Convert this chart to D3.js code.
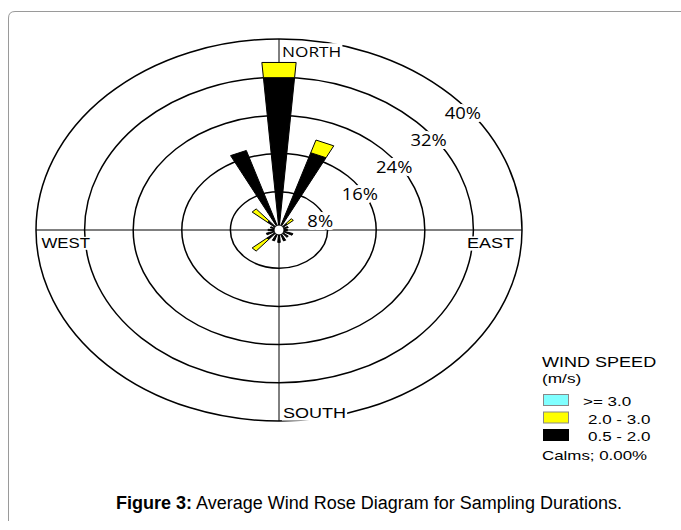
<!DOCTYPE html>
<html lang="en">
<head>
<meta charset="UTF-8">
<script src="https://d3js.org/d3.v7.min.js"></script>
<title>Wind Rose</title>
<style>
  body { margin: 0; background: #fff; }
  svg text { font-family: "Liberation Sans", Arial, sans-serif; }
</style>
</head>
<body>
<svg id="chart" width="681" height="530"></svg>
<script>
// 16 compass sectors, clockwise from north
var directions = ["N","NNE","NE","ENE","E","ESE","SE","SSE","S","SSW","SW","WSW","W","WNW","NW","NNW"];
// frequency (%) per speed class
var black  = [32, 17, 1.8, 1.6, 1.4, 2.4, 2.0, 2.4, 2.6, 2.4, 2.6, 2.2, 1.8, 1.5, 2.5, 17.5]; // 0.5 - 2.0
var yellow = [3.2, 2.8, 1.3, 0, 0, 0, 0, 0, 0, 0, 3.2, 0, 0, 0, 3.3, 0];                       // 2.0 - 3.0
var cyan   = [0, 0, 0, 0, 0, 0, 0, 0, 0, 0, 0, 0, 0, 0, 0, 0];                                  // >= 3.0
var rings = [8, 16, 24, 32, 40];
var compass = ["NORTH", "EAST", "SOUTH", "WEST"];
var legendLabels = [">= 3.0", "2.0 - 3.0", "0.5 - 2.0"];
var legendColors = ["#80ffff", "#ffff00", "#000000"];

var svg = d3.select("#chart");
var cx = 279, cy = 230;
var xr = d3.scaleLinear().domain([0, 40]).range([0, 243]);
var yr = d3.scaleLinear().domain([0, 40]).range([0, 191]);
var halfW = 4.6;

function pt(r, deg) {
  var a = deg * Math.PI / 180;
  return [cx + xr(r) * Math.sin(a), cy - yr(r) * Math.cos(a)];
}

// the original figure is stretched sideways, so text is too
function stext(parent, x, y, str, size, sx, font) {
  var g = parent.append("g").attr("transform", "translate(" + x + "," + y + ") scale(" + sx + ",1)");
  var t = g.append("text").attr("font-size", size).text(str);
  if (font) t.style("font-family", font);
  return g;
}

// frame
svg.append("path")
  .attr("d", "M8.5,521 V18 Q8.5,11.5 15,11.5 H681")
  .attr("fill", "none").attr("stroke", "#9a9a9a");

// rings
svg.selectAll(".ring").data(rings).enter().append("ellipse")
  .attr("cx", cx).attr("cy", cy)
  .attr("rx", d => xr(d)).attr("ry", d => yr(d))
  .attr("fill", "none").attr("stroke", "#000").attr("stroke-width", 1.5);

// axes
svg.append("line").attr("x1", cx - xr(40)).attr("x2", cx + xr(40)).attr("y1", cy).attr("y2", cy)
  .attr("stroke", "#000");
svg.append("line").attr("x1", cx).attr("x2", cx).attr("y1", cy - yr(40)).attr("y2", cy + yr(40))
  .attr("stroke", "#000");

// petals, stacked speed classes
var petals = [];
directions.forEach(function (d, i) {
  var ang = i * 22.5, r0 = 0;
  [[black[i], legendColors[2]], [yellow[i], legendColors[1]], [cyan[i], legendColors[0]]].forEach(function (s) {
    if (s[0] > 0) {
      petals.push({ ang: ang, r0: r0, r1: r0 + s[0], fill: s[1] });
      r0 += s[0];
    }
  });
});
svg.selectAll(".petal").data(petals).enter().append("path")
  .attr("class", "petal")
  .attr("d", function (p) {
    var a1 = p.ang - halfW, a2 = p.ang + halfW;
    return "M" + [pt(p.r0, a1), pt(p.r1, a1), pt(p.r1, a2), pt(p.r0, a2)].map(q => q.join(",")).join("L") + "Z";
  })
  .attr("fill", p => p.fill).attr("stroke", "#000").attr("stroke-width", 1);

svg.append("circle").attr("cx", cx).attr("cy", cy).attr("r", 5)
  .attr("fill", "#fff").attr("stroke", "#000");

// ring labels along the 45 degree line
rings.forEach(function (r) {
  var p = pt(r, 45);
  var g = stext(svg, p[0] - 6, p[1] + 24.3, r + "%", 16, 1.15, "'Open Sans'");
  g.select("text").attr("stroke", "#fff").attr("stroke-width", 6).attr("paint-order", "stroke");
});

// compass labels on white boxes
compass.forEach(function (c) {
  var x, y, sx = 1.2, size = 15, font = null;
  if (c === "NORTH") { x = 282; y = 57; sx = 1.15; font = "'Open Sans'"; }
  else if (c === "EAST") { x = 467; y = 248; }
  else if (c === "SOUTH") { x = 283; y = 418; }
  else { x = 41.5; y = 248; sx = 1.12; }
  var g = stext(svg, x, y, c, size, sx, font);
  var b = g.select("text").node().getBBox();
  g.insert("rect", "text").attr("x", b.x - 1).attr("y", b.y + 2).attr("width", b.width + 2)
    .attr("height", b.height - 3).attr("fill", "#fff");
});

// legend
stext(svg, 542, 367, "WIND SPEED", 14.2, 1.27);
stext(svg, 542, 383, "(m/s)", 13.6, 1.27);
legendLabels.forEach(function (l, i) {
  var y = 394.5 + i * 17.5;
  svg.append("rect").attr("x", 543.5).attr("y", y).attr("width", 25).attr("height", 11)
    .attr("fill", legendColors[i]).attr("stroke", i === 2 ? "#000" : "#888");
  stext(svg, i === 0 ? 583 : 588, y + 11.5, l, 13.4, 1.27);
});
stext(svg, 542, 460, "Calms; 0.00%", 13.3, 1.27);

// caption
var cap = svg.append("text").attr("x", 369).attr("y", 509).attr("text-anchor", "middle").attr("font-size", 18);
cap.append("tspan").attr("font-weight", "bold").text("Figure 3:");
cap.append("tspan").text(" Average Wind Rose Diagram for Sampling Durations.");
</script>
</body>
</html>
